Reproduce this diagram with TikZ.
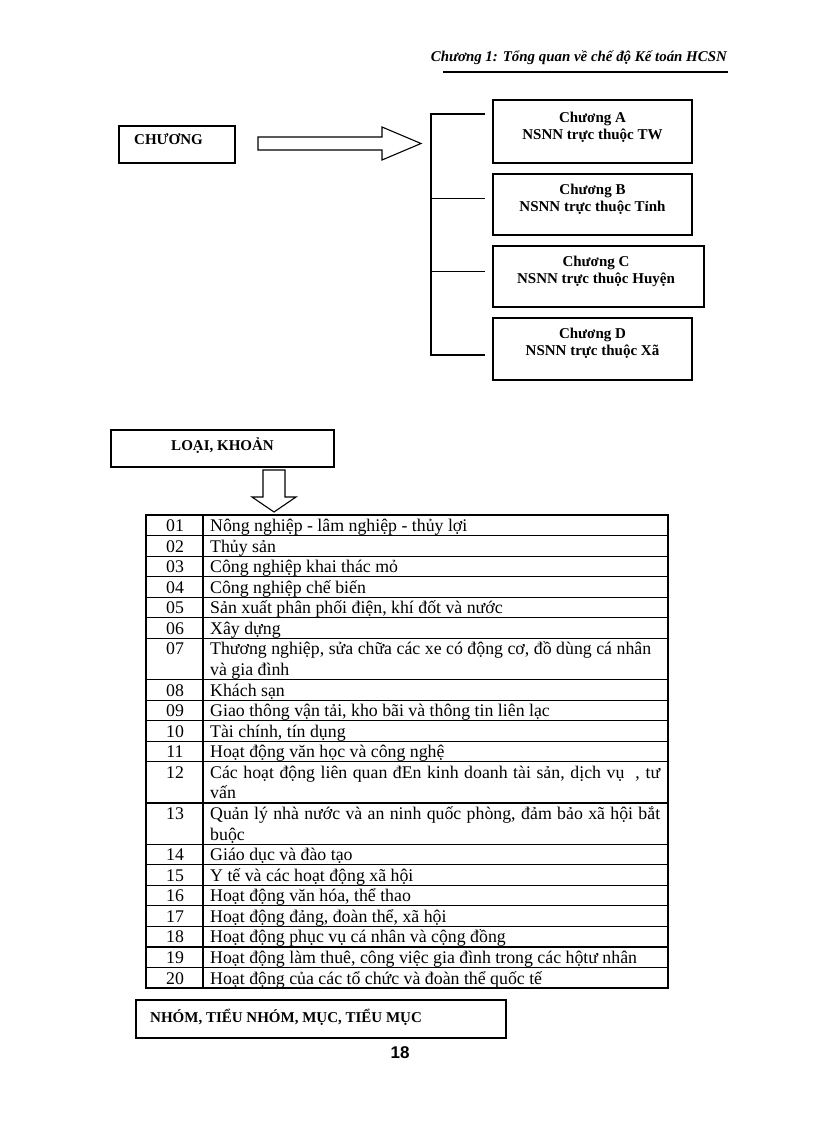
\documentclass[tikz,border=0pt]{standalone}
\usepackage{fontspec}
\setmainfont{Liberation Serif}
\newfontfamily\pnfont{Liberation Sans}
\newcommand\trow[4]{%
  \node[numtxt] (n#1) at (175,{515+20.57*#2+16.5}) {#3};
  \node[rowtxt] (t#1) at (210,{515+20.57*#2+16.5}) {#4};}
\newcommand\tcont[3]{%
  \node[rowtxt] (c#1) at (210,{515+20.57*#2+16.5}) {#3};}
\begin{document}
\begin{tikzpicture}[x=1pt,y=-1pt,
  boxed/.style={draw, line width=1.1pt, inner sep=0pt},
  btxt/.style={font=\fontsize{15}{16.5}\selectfont\bfseries, inner sep=0pt, align=center},
  rowtxt/.style={font=\fontsize{17.8}{20.57}\selectfont, inner sep=0pt, anchor=base west},
  numtxt/.style={font=\fontsize{17.8}{20.57}\selectfont, inner sep=0pt, anchor=base},
  tline/.style={line width=1.1pt},
  blockarrow/.style={draw, line width=1.1pt, fill=white}
]
\useasboundingbox (0,0) rectangle (816,1123);

% header
\node[anchor=base east, inner sep=0pt, font=\fontsize{14.9}{18}\selectfont\bfseries\itshape] (hdr) at (727,62) {Chương 1: Tổng quan về chế độ Kế toán HCSN};
\coordinate (hl) at (443,72);
\coordinate (hr) at (728,72);
\draw[line width=2pt] (hl) -- (hr);

% CHUONG box
\node[boxed, minimum width=116pt, minimum height=37pt] (chuong) at (177,144.5) {};
\node[btxt, anchor=base west] (chuongt) at (134,145) {CHƯƠNG};

% right block arrow
\draw[blockarrow] (258,137) -- (382,137) -- (382,127) -- (421,143.5) -- (382,160) -- (382,150) -- (258,150) -- cycle;

% sub boxes
\node[boxed, minimum width=199pt, minimum height=63pt] (ba) at (592.5,131.5) {};
\node[btxt, anchor=north] (bat) at (592.5,112) {Chương A\\NSNN trực thuộc TW};
\node[boxed, minimum width=199pt, minimum height=61pt] (bb) at (592.5,204.5) {};
\node[btxt, anchor=north] (bbt) at (592.5,184) {Chương B\\NSNN trực thuộc Tỉnh};
\node[boxed, minimum width=211pt, minimum height=61pt] (bc) at (598.5,276.5) {};
\node[btxt, anchor=north] (bct) at (596,256) {Chương C\\NSNN trực thuộc Huyện};
\node[boxed, minimum width=199pt, minimum height=62pt] (bd) at (592.5,349) {};
\node[btxt, anchor=north] (bdt) at (592.5,328) {Chương D\\NSNN trực thuộc Xã};

% bracket
\coordinate (ka) at (485,114);
\coordinate (kb) at (485,199);
\coordinate (kc) at (485,271);
\coordinate (kd) at (485,355);
\draw[line width=1.8pt] (ka) -- (431,114) -- (431,355) -- (kd);
\draw[line width=1pt] (431,199) -- (kb);
\draw[line width=1pt] (431,271) -- (kc);

% LOAI KHOAN
\node[boxed, minimum width=223pt, minimum height=37pt] (loai) at (222.5,448.5) {};
\node[btxt] (loait) at (222.5,446) {LOẠI, KHOẢN};

% down block arrow
\draw[blockarrow] (263,470) -- (285,470) -- (285,497) -- (296,497) -- (274,512) -- (252,497) -- (263,497) -- cycle;

% table
\node[draw, line width=1.1pt, minimum width=522pt, minimum height=473pt, inner sep=0pt] (tab) at (407,751.5) {};
\draw[tline] (203,515) -- (203,988);
\foreach \l in {1,2,3,4,5,6,8,9,10,11,12,14,16,17,18,19,20,21,22}
  \draw[tline] (146,{515+20.57*\l}) -- (668,{515+20.57*\l});

\trow{1}{0}{01}{Nông nghiệp - lâm nghiệp - thủy lợi}
\trow{2}{1}{02}{Thủy sản}
\trow{3}{2}{03}{Công nghiệp khai thác mỏ}
\trow{4}{3}{04}{Công nghiệp chế biến}
\trow{5}{4}{05}{Sản xuất phân phối điện, khí đốt và nước}
\trow{6}{5}{06}{Xây dựng}
\trow{7}{6}{07}{\makebox[441pt][s]{Thương nghiệp, sửa chữa các xe có động cơ, đồ dùng cá nhân}}
\tcont{7}{7}{và gia đình}
\trow{8}{8}{08}{Khách sạn}
\trow{9}{9}{09}{Giao thông vận tải, kho bãi và thông tin liên lạc}
\trow{10}{10}{10}{Tài chính, tín dụng}
\trow{11}{11}{11}{Hoạt động văn học và công nghệ}
\trow{12}{12}{12}{\makebox[450pt][s]{Các hoạt động liên quan đEn kinh doanh tài sản, dịch vụ\ \ , tư}}
\tcont{12}{13}{vấn}
\trow{13}{14}{13}{\makebox[450pt][s]{Quản lý nhà nước và an ninh quốc phòng, đảm bảo xã hội bắt}}
\tcont{13}{15}{buộc}
\trow{14}{16}{14}{Giáo dục và đào tạo}
\trow{15}{17}{15}{Y tế và các hoạt động xã hội}
\trow{16}{18}{16}{Hoạt động văn hóa, thể thao}
\trow{17}{19}{17}{Hoạt động đảng, đoàn thể, xã hội}
\trow{18}{20}{18}{Hoạt động phục vụ cá nhân và cộng đồng}
\trow{19}{21}{19}{Hoạt động làm thuê, công việc gia đình trong các hộtư nhân}
\trow{20}{22}{20}{Hoạt động của các tổ chức và đoàn thể quốc tế}

% NHOM box
\node[boxed, minimum width=370pt, minimum height=38pt] (nhom) at (321,1019) {};
\node[btxt, anchor=base west] (nhomt) at (150,1022) {NHÓM, TIỂU NHÓM, MỤC, TIỂU MỤC};

% page number
\node[inner sep=0pt, font=\pnfont\bfseries\fontsize{17}{20}\selectfont] (pg) at (400,1053) {18};
\end{tikzpicture}
\end{document}
